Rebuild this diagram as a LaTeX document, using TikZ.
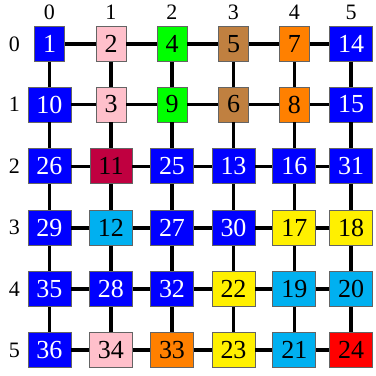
\documentclass[tikz,border=0pt]{standalone}
\usepackage{fontspec}
\setmainfont{Liberation Serif}
\definecolor{cB}{RGB}{0,0,255}
\definecolor{cP}{RGB}{255,192,203}
\definecolor{cG}{RGB}{0,255,0}
\definecolor{cN}{RGB}{192,128,64}
\definecolor{cO}{RGB}{255,128,0}
\definecolor{cM}{RGB}{192,0,64}
\definecolor{cC}{RGB}{0,176,240}
\definecolor{cY}{RGB}{255,240,0}
\definecolor{cR}{RGB}{255,0,0}
\definecolor{bord}{RGB}{100,100,100}
\tikzset{
  cell/.style={draw=bord, line width=0.9pt, minimum height=35pt, inner xsep=8.5pt, inner ysep=0pt,
    font=\fontsize{26}{26}\selectfont},
  lab/.style={font=\fontsize{22}{22}\selectfont, inner sep=0pt},
  edge/.style={line width=3.6pt, black}
}
\begin{document}
\begin{tikzpicture}[x=1pt,y=-1pt]
\useasboundingbox (0,0) rectangle (376,376);
\def\xs{{49.5,111,172,233.5,294.3,351}}
\def\ys{{44,104.5,166.3,227.8,289,350}}
\foreach \c in {0,...,5} {
  \pgfmathsetmacro\xx{\xs[\c]}
  \node[lab] (col\c) at (\xx,12) {\c};
}
\foreach \r in {0,...,5} {
  \pgfmathsetmacro\yy{\ys[\r]}
  \node[lab] (row\r) at (14.5,\yy) {\r};
}
\foreach \r/\list in {
  0/{1/cB/white,2/cP/black,4/cG/black,5/cN/black,7/cO/black,14/cB/white},
  1/{10/cB/white,3/cP/black,9/cG/black,6/cN/black,8/cO/black,15/cB/white},
  2/{26/cB/white,11/cM/black,25/cB/white,13/cB/white,16/cB/white,31/cB/white},
  3/{29/cB/white,12/cC/black,27/cB/white,30/cB/white,17/cY/black,18/cY/black},
  4/{35/cB/white,28/cB/white,32/cB/white,22/cY/black,19/cC/black,20/cC/black},
  5/{36/cB/white,34/cP/black,33/cO/black,23/cY/black,21/cC/black,24/cR/black}} {
  \foreach \v/\f/\t [count=\c from 0] in \list {
    \pgfmathsetmacro\xx{\xs[\c]}
    \pgfmathsetmacro\yy{\ys[\r]}
    \node[cell, fill=\f, text=\t] (n-\r-\c) at (\xx,\yy) {\v};
  }
}
\foreach \r in {0,...,5} {
  \foreach \c [evaluate=\c as \d using int(\c+1)] in {0,...,4} {
    \draw[edge] (n-\r-\c) -- (n-\r-\d);
  }
}
\foreach \c in {0,...,5} {
  \foreach \r [evaluate=\r as \s using int(\r+1)] in {0,...,4} {
    \draw[edge] (n-\r-\c) -- (n-\s-\c);
  }
}
\end{tikzpicture}
\end{document}
